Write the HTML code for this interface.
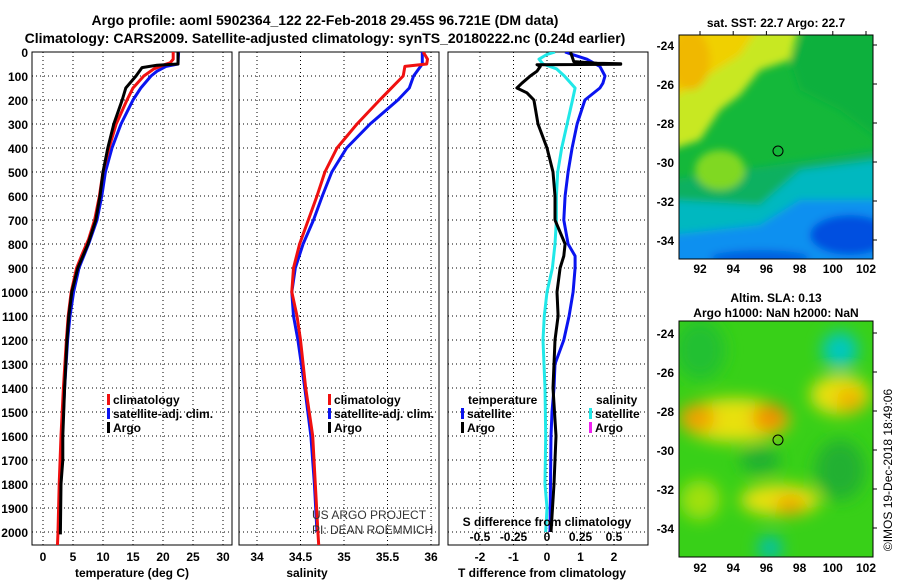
<!DOCTYPE html>
<html><head><meta charset="utf-8"><style>
html,body{margin:0;padding:0;background:#fff}
svg{display:block;font-family:"Liberation Sans",sans-serif}
.b{font-weight:bold}
</style></head><body>
<svg id="c" width="900" height="580" viewBox="0 0 900 580" xmlns="http://www.w3.org/2000/svg">
<defs>
<clipPath id="cp1"><rect x="32" y="52" width="200" height="493"/></clipPath>
<clipPath id="cp2"><rect x="239" y="52" width="200" height="493"/></clipPath>
<clipPath id="cp3"><rect x="448" y="52" width="200" height="493"/></clipPath>
<clipPath id="m1"><rect x="679" y="35" width="194" height="224"/></clipPath>
<clipPath id="m2"><rect x="679" y="321" width="194" height="236"/></clipPath>
<filter id="bl" x="-50%" y="-50%" width="200%" height="200%"><feGaussianBlur stdDeviation="8"/></filter>
<filter id="bl2" x="-50%" y="-50%" width="200%" height="200%"><feGaussianBlur stdDeviation="4"/></filter>
</defs>
<text class="b" x="325" y="25" font-size="14" text-anchor="middle">Argo profile: aoml 5902364_122 22-Feb-2018 29.45S 96.721E (DM data)</text>
<text class="b" x="325" y="43" font-size="14" text-anchor="middle">Climatology: CARS2009. Satellite-adjusted climatology: synTS_20180222.nc (0.24d earlier)</text>

<!-- SST map -->
<g clip-path="url(#m1)">
<rect x="679" y="35" width="194" height="224" fill="#14b83a"/>
<g filter="url(#bl2)">
<polygon points="670,25 800,25 790,60 760,70 740,95 720,110 700,140 670,150" fill="#c8e820"/>
<polygon points="670,25 760,25 740,55 700,80 670,100" fill="#f0d000"/>
<ellipse cx="690" cy="60" rx="20" ry="30" fill="#f0b800"/>
<polygon points="810,25 880,25 880,140 840,110 800,90 790,60" fill="#0cb03c"/>
<polygon points="670,180 880,150 880,270 670,270" fill="#10b060"/>
<polygon points="670,200 760,205 800,170 880,160 880,270 670,270" fill="#00b8c0"/>
<polygon points="670,235 760,225 800,200 880,200 880,270 670,270" fill="#1090f0"/>
<ellipse cx="850" cy="235" rx="40" ry="20" fill="#0050e0"/>
<ellipse cx="760" cy="258" rx="50" ry="8" fill="#0060e0"/>
<ellipse cx="720" cy="170" rx="25" ry="20" fill="#80d820"/>
</g>
</g>
<rect x="679" y="35" width="194" height="224" fill="none" stroke="#000"/>
<circle cx="778" cy="151" r="5" fill="none" stroke="#000"/>
<text class="b" x="776" y="27" font-size="12" text-anchor="middle">sat. SST: 22.7 Argo: 22.7</text>

<!-- SLA map -->
<g clip-path="url(#m2)">
<rect x="679" y="321" width="194" height="236" fill="#38d018"/>
<g filter="url(#bl)">
<ellipse cx="700" cy="350" rx="25" ry="30" fill="#20c030"/>
<ellipse cx="735" cy="420" rx="55" ry="22" fill="#e8e010"/>
<ellipse cx="697" cy="418" rx="18" ry="14" fill="#f0a000"/>
<ellipse cx="770" cy="418" rx="18" ry="14" fill="#f09000"/>
<ellipse cx="840" cy="395" rx="30" ry="20" fill="#e8e010"/>
<ellipse cx="850" cy="400" rx="14" ry="12" fill="#f0b000"/>
<ellipse cx="840" cy="350" rx="18" ry="18" fill="#00c8c0"/>
<ellipse cx="780" cy="500" rx="40" ry="16" fill="#e8e010"/>
<ellipse cx="790" cy="505" rx="15" ry="9" fill="#f0a000"/>
<ellipse cx="770" cy="548" rx="12" ry="12" fill="#00c0b0"/>
<ellipse cx="760" cy="460" rx="20" ry="14" fill="#20b030"/>
<ellipse cx="840" cy="470" rx="25" ry="30" fill="#20b030"/>
<ellipse cx="700" cy="500" rx="20" ry="20" fill="#a0e010"/>
</g>
</g>
<rect x="679" y="321" width="194" height="236" fill="none" stroke="#000"/>
<circle cx="778" cy="440" r="5" fill="none" stroke="#000"/>
<text class="b" x="776" y="302" font-size="12" text-anchor="middle">Altim. SLA: 0.13</text>
<text class="b" x="776" y="317" font-size="12" text-anchor="middle">Argo h1000: NaN h2000: NaN</text>
<text x="892" y="470" font-size="12" text-anchor="middle" transform="rotate(-90 892 470)">©IMOS 19-Dec-2018 18:49:06</text>

<g id="g"></g>

<text x="312" y="519" font-size="12" fill="#333">US ARGO PROJECT</text>
<text x="312" y="534" font-size="12" fill="#333">PI: DEAN ROEMMICH</text>
</svg>
<script>
// depth grid
const depthTicks=[0,100,200,300,400,500,600,700,800,900,1000,1100,1200,1300,1400,1500,1600,1700,1800,1900,2000];
const tempTicks=[0,5,10,15,20,25,30];
const salTicks=[34,34.5,35,35.5,36];
const salTickLabels=["34","34.5","35","35.5","36"];
const tdiffTicks=[-2,-1,0,1,2];
const sdiffTicks=[-0.5,-0.25,0,0.25,0.5];
const sdiffTickLabels=["-0.5","-0.25","0","0.25","0.5"];
const latTicks=[-24,-26,-28,-30,-32,-34];
const lonTicks=[92,94,96,98,100,102];
// temperature profiles [depth, value]
const tempClimDepth=[0,30,45,55,70,100,150,200,300,400,500,600,700,780,850,900,1000,1100,1200,1400,1600,1800,2000,2060];
const tempClimVal=[21.7,21.7,21.2,20,18.5,16.8,15,14,12.2,11,10,9.4,8.6,7.6,6.4,5.6,4.7,4.2,3.9,3.4,3.0,2.7,2.5,2.4];
const tempSatDepth=[0,50,60,80,100,150,200,300,400,500,600,700,800,850,900,1000,1100,1200,1400,1600,1800,2000];
const tempSatVal=[22.6,22.5,20.5,19,18,16.3,15,13,11.5,10.4,9.8,9,7.6,6.8,6,5.1,4.5,4.1,3.6,3.2,2.9,2.6];
const tempArgoDepth=[0,50,55,65,100,150,200,300,400,500,600,700,800,900,1000,1100,1200,1400,1600,1700,1800,2000,2010];
const tempArgoVal=[22.5,22.5,19,16.5,15.5,13.8,13.2,11.8,10.8,10,9.5,8.8,7.5,5.8,4.8,4.3,4.0,3.6,3.3,3.3,3.0,2.9,2.9];
// salinity profiles
const salClimDepth=[0,30,50,60,100,200,300,400,500,600,700,800,900,1000,1100,1200,1400,1500,1600,1800,2000,2060];
const salClimVal=[35.91,35.96,35.95,35.70,35.68,35.41,35.15,34.92,34.78,34.69,34.59,34.49,34.42,34.40,34.46,34.50,34.56,34.60,34.64,34.67,34.70,34.71];
const salSatDepth=[0,50,100,150,200,300,400,500,600,700,800,900,1000,1100,1200,1400,1600,1800,2000];
const salSatVal=[35.9,35.9,35.8,35.75,35.62,35.3,35.03,34.86,34.75,34.65,34.53,34.44,34.40,34.42,34.47,34.55,34.62,34.66,34.69];
// difference profiles
const tdSatDepth=[0,10,30,60,100,130,150,200,300,400,500,600,700,800,850,900,1000,1100,1200,1300,1400,1500,1600,2000];
const tdSatVal=[0.54,0.75,1.19,1.58,1.73,1.67,1.58,1.13,0.9,0.75,0.63,0.54,0.5,0.63,0.84,0.84,0.78,0.66,0.5,0.24,0.21,0.15,0.12,0.09];
const tdArgoDepth=[0,40,47,49,51,53,60,80,100,130,150,170,200,300,400,500,600,700,800,850,900,1000,1100,1200,1400,1600,1800,2000];
const tdArgoVal=[0.7,0.8,1.5,2.2,2.2,-0.3,-0.2,-0.3,-0.5,-0.75,-0.9,-0.6,-0.39,-0.27,0,0.18,0.24,0.24,0.54,0.5,0.39,0.3,0.33,0.24,0.18,0.27,0.21,0.12];
const sdSatDepth=[0,10,30,50,70,100,150,200,300,400,500,600,700,800,900,1000,1100,1200,1400,1600,1800,1900,2000];
const sdSatVal=[0.06,0,-0.06,-0.03,0.07,0.13,0.21,0.19,0.15,0.11,0.08,0.07,0.07,0.06,0.04,0,-0.02,-0.03,-0.015,-0.01,-0.015,0,-0.01];

const NS='http://www.w3.org/2000/svg';
const G=document.getElementById('g');
const yD=d=>52+d*0.24;
const x1=t=>43+t*6;
const x2=s=>257+(s-34)*87;
const x3=t=>547+t*33.5;
const x3s=s=>547+s*134;
function mk(tag,attrs,parent){const e=document.createElementNS(NS,tag);for(const k in attrs)e.setAttribute(k,attrs[k]);(parent||G).appendChild(e);return e;}
function txt(x,y,s,attrs){const e=mk('text',Object.assign({x:x,y:y,'font-size':12,'font-weight':'bold'},attrs||{}));e.textContent=s;return e;}

const panels=[{l:32,clip:'cp1',ticks:tempTicks,labels:tempTicks.map(String),fx:x1,title:'temperature (deg C)',name:'temperature-panel',tx:132},
{l:239,clip:'cp2',ticks:salTicks,labels:salTickLabels,fx:x2,title:'salinity',name:'salinity-panel',tx:307},
{l:448,clip:'cp3',ticks:tdiffTicks,labels:tdiffTicks.map(String),fx:x3,title:'T difference from climatology',name:'difference-panel',tx:542}];
panels.forEach((p,i)=>{
  const pg=mk('g',{});
  
  
  depthTicks.forEach(d=>{const l=mk('line',{x1:p.l,x2:p.l+200,y1:yD(d),y2:yD(d),stroke:'#000','stroke-dasharray':'1,3','stroke-width':1},pg);
    
    });
  p.ticks.forEach((t,j)=>{const l=mk('line',{x1:p.fx(t),x2:p.fx(t),y1:52,y2:545,stroke:'#000','stroke-dasharray':'1,3'},pg);
    
    
    const tl=txt(p.fx(t),561,p.labels[j],{'text-anchor':'middle'});
    
    });
  const r=mk('rect',{x:p.l,y:52,width:200,height:493,fill:'none',stroke:'#000'},pg);
  
  
  const at=txt(p.tx,577,p.title,{'text-anchor':'middle'});
  
  
});
depthTicks.forEach(d=>{const t=txt(28,yD(d)+5,String(d),{'text-anchor':'end'});
  
  });

function line(depths,vals,fx,color,clip,name){
  const pts=depths.map((d,i)=>fx(vals[i]).toFixed(1)+','+yD(d).toFixed(1)).join(' ');
  const l=mk('polyline',{points:pts,fill:'none',stroke:color,'stroke-width':3,'stroke-linejoin':'round','clip-path':'url(#'+clip+')'});
  
  
}
line(tempSatDepth,tempSatVal,x1,'#0a14f0','cp1','temp-satellite-line');
line(tempClimDepth,tempClimVal,x1,'#f01010','cp1','temp-climatology-line');
line(tempArgoDepth,tempArgoVal,x1,'#000','cp1','temp-argo-line');
line(salSatDepth,salSatVal,x2,'#0a14f0','cp2','sal-satellite-line');
line(salClimDepth,salClimVal,x2,'#f01010','cp2','sal-climatology-line');
line(sdSatDepth,sdSatVal,x3s,'#20e8e8','cp3','sdiff-satellite-line');
line(tdSatDepth,tdSatVal,x3,'#0a14f0','cp3','tdiff-satellite-line');
line(tdArgoDepth,tdArgoVal,x3,'#000','cp3','tdiff-argo-line');

function leg(x,y,color,label,name){
  const r=mk('rect',{x:x,y:y-10,width:3,height:11,fill:color});
  
  
  const t=txt(x+6,y,label);
  
  
}
leg(107,404,'#f01010','climatology','legend-climatology-temp');
leg(107,418,'#0a14f0','satellite-adj. clim.','legend-satellite-temp');
leg(107,432,'#000','Argo','legend-argo-temp');
leg(328,404,'#f01010','climatology','legend-climatology-sal');
leg(328,418,'#0a14f0','satellite-adj. clim.','legend-satellite-sal');
leg(328,432,'#000','Argo','legend-argo-sal');
const lt=txt(468,404,'temperature');


const ls=txt(596,404,'salinity');


leg(461,418,'#0a14f0','satellite','legend-tdiff-satellite');
leg(461,432,'#000','Argo','legend-tdiff-argo');
leg(589,418,'#20e8e8','satellite','legend-sdiff-satellite');
leg(589,432,'#f020f0','Argo','legend-sdiff-argo');
const sh=txt(547,526,'S difference from climatology',{'text-anchor':'middle'});


sdiffTicks.forEach((s,j)=>{const t=txt(x3s(s),541,sdiffTickLabels[j],{'text-anchor':'middle'});
  
  });

// map axes
const latY1=l=>45+(-24-l)*19.5;
const latY2=l=>333+(-24-l)*19.5;
const lonX=l=>700+(l-92)*16.6;
latTicks.forEach(l=>{
  [latY1,latY2].forEach((f,k)=>{
    const t=txt(674,f(l)+5,String(l),{'text-anchor':'end'});
    
    
    mk('line',{x1:873,x2:877,y1:f(l),y2:f(l),stroke:'#000'});
  });
});
lonTicks.forEach(l=>{
  [273,572].forEach(y=>{
    const t=txt(lonX(l),y,String(l),{'text-anchor':'middle'});
    
    
  });
  mk('line',{x1:lonX(l),x2:lonX(l),y1:31,y2:35,stroke:'#000'});
});
</script>
</body></html>
